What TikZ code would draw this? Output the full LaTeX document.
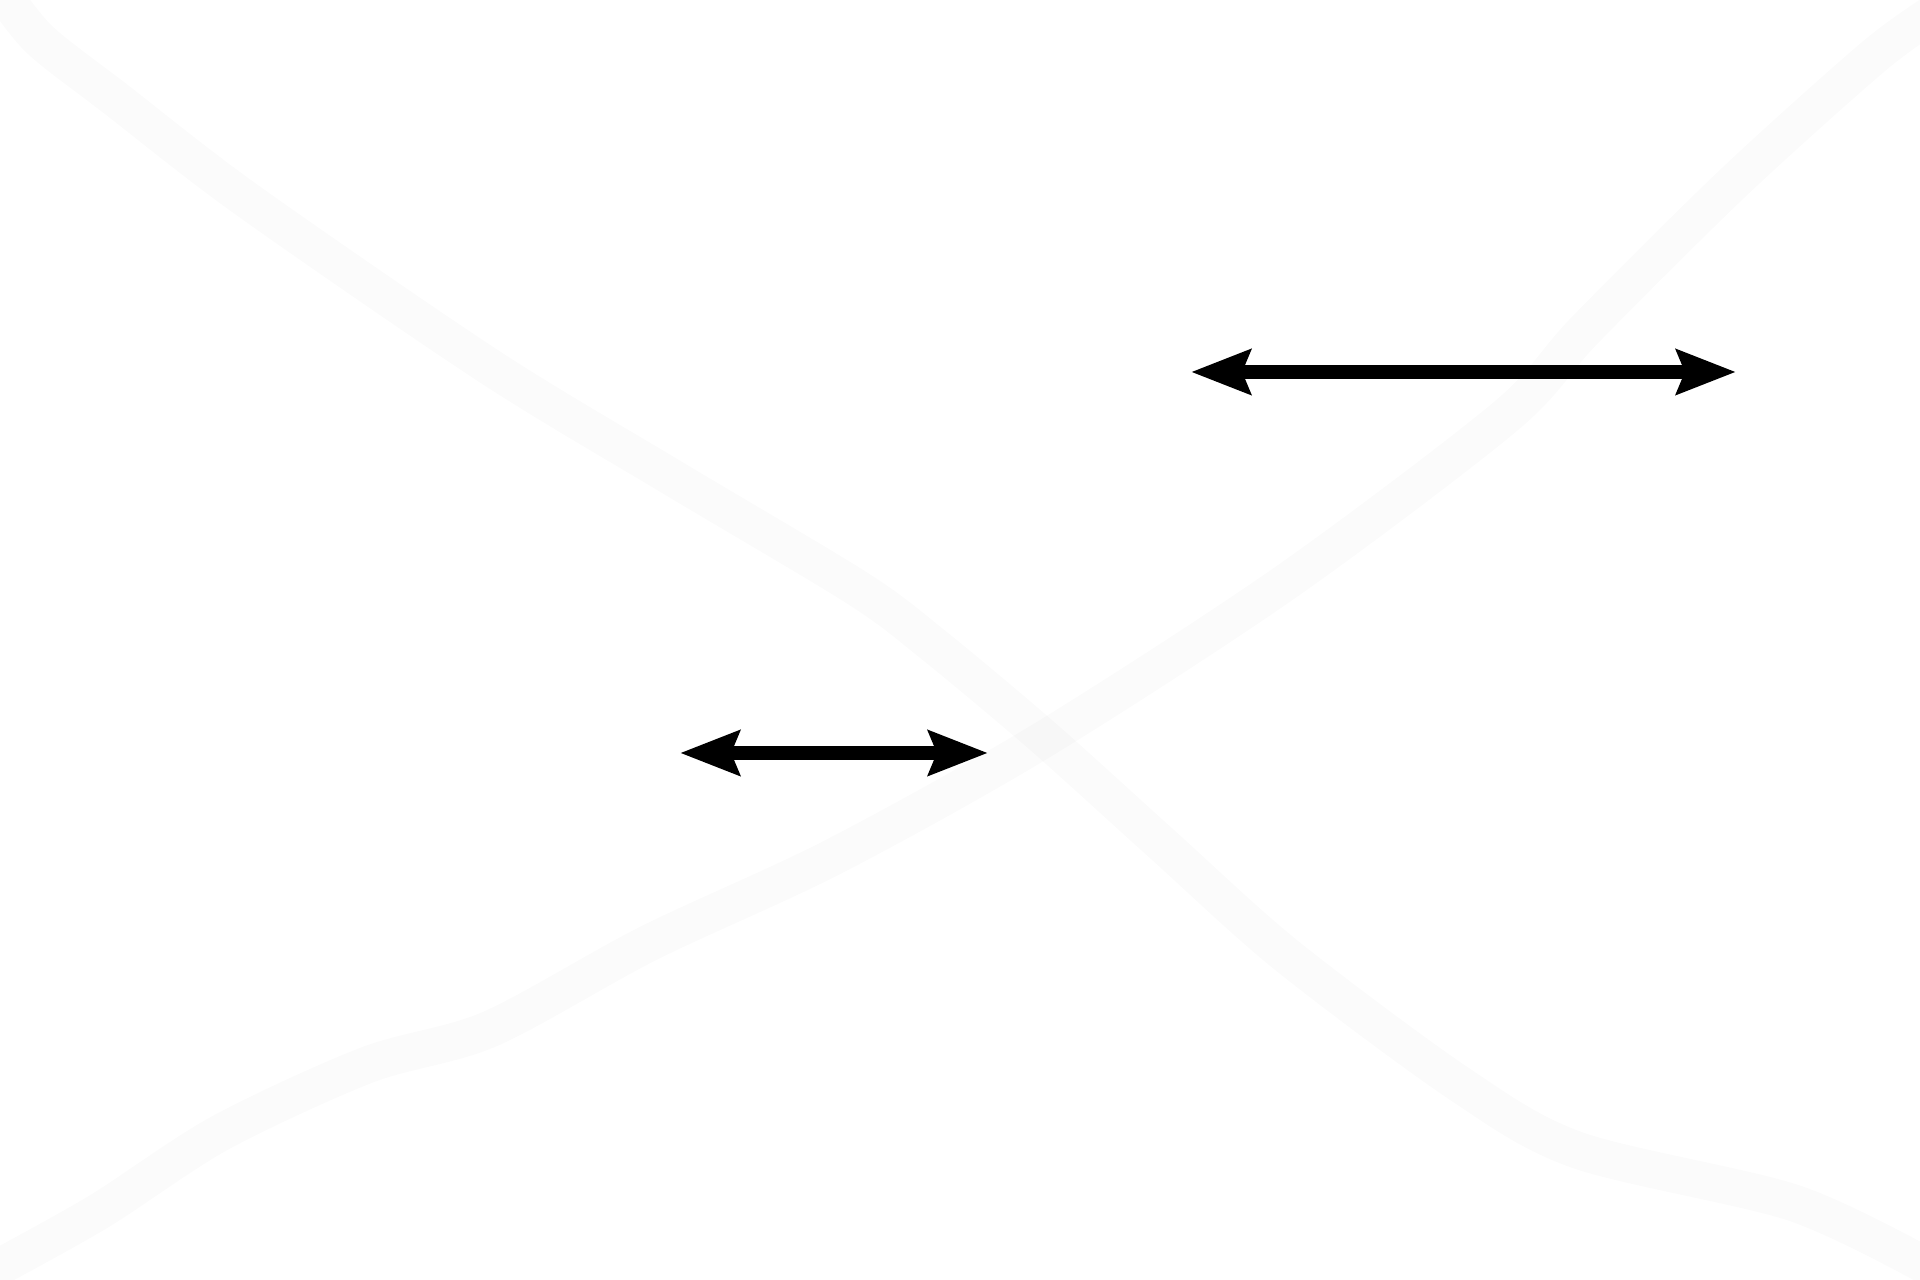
\documentclass[tikz,border=0pt]{standalone}
\usepackage{tikz}
\usetikzlibrary{arrows.meta}
\tikzset {
    style A/.style={
        draw=black,
        draw opacity=0.017,
        line width=10.5pt,
        line cap=round,
        line join=round,
    },
    style B/.style={
        draw=black,
        line width=4pt,
        {Stealth[length=16.8pt, width=12.5pt, inset=2.3pt]}-{Stealth[length=16.8pt, width=12.5pt, inset=2.3pt]},
    },
}
\begin{document}
\begin{tikzpicture}[x=0.01cm, y=-0.01cm]
        \useasboundingbox (0,0) rectangle (1920,1280);

        % two faint strands
        \draw[style A] plot[smooth, tension=0.5] coordinates {(2,-8) (40,40) (117,100) (247,200) (490,367) (673,478) (857,588) (931,643) (1041,735) (1163,845) (1286,955) (1458,1083) (1577,1150) (1794,1203) (1930,1268)};
        \draw[style A] plot[smooth, tension=0.5] coordinates {(-10,1272) (98,1212) (220,1133) (367,1065) (490,1029) (649,943) (833,857) (1041,741) (1286,582) (1506,416) (1585,330) (1733,183) (1873,57) (1935,12)};

        \coordinate (wideL) at (1191,372);
        \coordinate (wideR) at (1736,372);
        \coordinate (narrowL) at (680,753);
        \coordinate (narrowR) at (988,753);

        \draw[style B] (wideL) -- (wideR);
        \draw[style B] (narrowL) -- (narrowR);
    \end{tikzpicture}
\end{document}
